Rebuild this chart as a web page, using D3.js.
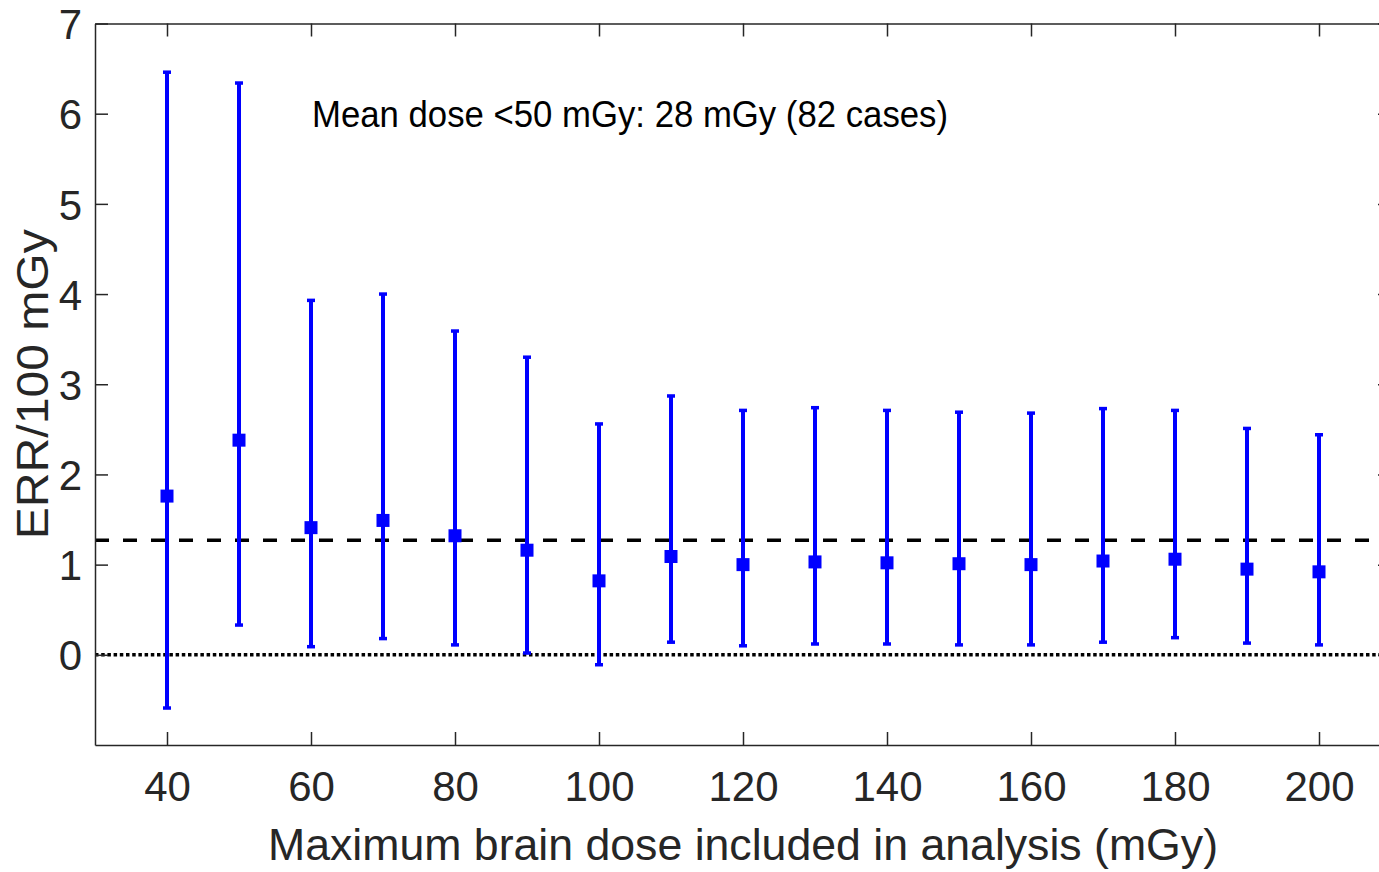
<!DOCTYPE html>
<html>
<head>
<meta charset="utf-8">
<script src="https://cdn.jsdelivr.net/npm/d3@7"></script>
<style>
  body { margin: 0; background: #fff; }
  svg { display: block; font-family: "Liberation Sans", Arial, sans-serif; }
</style>
</head>
<body>
<div id="chart"></div>
<script>
// values
const doses = [40, 50, 60, 70, 80, 90, 100, 110, 120, 130, 140, 150, 160, 170, 180, 190, 200];
const err   = [1.76, 2.38, 1.41, 1.49, 1.32, 1.16, 0.82, 1.09, 1.00, 1.03, 1.02, 1.01, 1.00, 1.04, 1.06, 0.95, 0.92];
const upper = [6.46, 6.34, 3.93, 4.00, 3.59, 3.30, 2.56, 2.87, 2.71, 2.74, 2.71, 2.69, 2.68, 2.73, 2.71, 2.51, 2.44];
const lower = [-0.59, 0.33, 0.09, 0.18, 0.11, 0.02, -0.11, 0.14, 0.10, 0.12, 0.12, 0.11, 0.11, 0.14, 0.19, 0.13, 0.11];
const refLine = 1.27;
const xTicks = [40, 60, 80, 100, 120, 140, 160, 180, 200];
const yTicks = [0, 1, 2, 3, 4, 5, 6, 7];
const note = 'Mean dose <50 mGy: 28 mGy (82 cases)';

const points = doses.map((d, i) => ({ dose: d, err: err[i], hi: upper[i], lo: lower[i] }));

const width = 1379, height = 872;
const plot = { left: 95, right: 1391, top: 23.5, bottom: 745 };
const axisColor = '#262626';

const svg = d3.select('#chart').append('svg')
    .attr('width', width)
    .attr('height', height);

const x = d3.scaleLinear().domain([30, 210]).range([plot.left, plot.right]);
const y = d3.scaleLinear().domain([-1, 7]).range([plot.bottom, plot.top]);

// reference lines
svg.append('line')
    .attr('x1', plot.left).attr('x2', plot.right)
    .attr('y1', y(refLine)).attr('y2', y(refLine))
    .attr('stroke', '#000').attr('stroke-width', 3.5)
    .attr('stroke-dasharray', '14 14');

svg.append('line')
    .attr('x1', plot.left).attr('x2', plot.right)
    .attr('y1', y(0)).attr('y2', y(0))
    .attr('stroke', '#000').attr('stroke-width', 3.5)
    .attr('stroke-dasharray', '3.5 2.7');

// error bars
const bars = svg.append('g').attr('class', 'bars');
const blue = '#0000ff';

bars.selectAll('line.bar')
    .data(points)
    .join('line')
    .attr('class', 'bar')
    .attr('x1', d => x(d.dose)).attr('x2', d => x(d.dose))
    .attr('y1', d => y(d.hi)).attr('y2', d => y(d.lo))
    .attr('stroke', blue).attr('stroke-width', 4);

const capW = 8, capH = 3.5;
bars.selectAll('rect.cap-hi')
    .data(points)
    .join('rect')
    .attr('class', 'cap-hi')
    .attr('x', d => x(d.dose) - capW / 2)
    .attr('y', d => y(d.hi) - capH / 2)
    .attr('width', capW).attr('height', capH)
    .attr('fill', blue);

bars.selectAll('rect.cap-lo')
    .data(points)
    .join('rect')
    .attr('class', 'cap-lo')
    .attr('x', d => x(d.dose) - capW / 2)
    .attr('y', d => y(d.lo) - capH / 2)
    .attr('width', capW).attr('height', capH)
    .attr('fill', blue);

const m = 13;
bars.selectAll('rect.marker')
    .data(points)
    .join('rect')
    .attr('class', 'marker')
    .attr('x', d => x(d.dose) - m / 2)
    .attr('y', d => y(d.err) - m / 2)
    .attr('width', m).attr('height', m)
    .attr('fill', blue);

// axes (ticks point inward, box all round)
const tickLen = 13;
const tickFont = 42;

const xAxis = svg.append('g')
    .attr('transform', `translate(0,${plot.bottom})`)
    .call(d3.axisBottom(x).tickValues(xTicks).tickSizeInner(-tickLen).tickSizeOuter(0).tickPadding(26));

const xTop = svg.append('g')
    .attr('transform', `translate(0,${plot.top})`)
    .call(d3.axisTop(x).tickValues(xTicks).tickSizeInner(-tickLen).tickSizeOuter(0).tickFormat(''));

const yAxis = svg.append('g')
    .attr('transform', `translate(${plot.left},0)`)
    .call(d3.axisLeft(y).tickValues(yTicks).tickSizeInner(-tickLen).tickSizeOuter(0).tickPadding(13));

const yRight = svg.append('g')
    .attr('transform', `translate(${plot.right},0)`)
    .call(d3.axisRight(y).tickValues(yTicks).tickSizeInner(-tickLen).tickSizeOuter(0).tickFormat(''));

[xAxis, xTop, yAxis, yRight].forEach(g => {
    g.select('.domain').attr('stroke', axisColor).attr('stroke-width', 1.5);
    g.selectAll('.tick line').attr('stroke', axisColor).attr('stroke-width', 1.5);
    g.selectAll('.tick text')
        .attr('fill', axisColor)
        .style('font-size', tickFont + 'px')
        .style('font-family', '"Liberation Sans", Arial, sans-serif');
});
yAxis.selectAll('.tick text').attr('dy', '0.36em');

// axis titles
svg.append('text')
    .attr('x', (plot.left + plot.right) / 2)
    .attr('y', 860)
    .attr('text-anchor', 'middle')
    .attr('fill', axisColor)
    .style('font-size', '44px')
    .attr('textLength', 950)
    .attr('lengthAdjust', 'spacingAndGlyphs')
    .text('Maximum brain dose included in analysis (mGy)');

svg.append('text')
    .attr('transform', `translate(48,${(plot.top + plot.bottom) / 2}) rotate(-90)`)
    .attr('text-anchor', 'middle')
    .attr('fill', axisColor)
    .style('font-size', '44px')
    .attr('textLength', 310)
    .attr('lengthAdjust', 'spacingAndGlyphs')
    .text('ERR/100 mGy');

// annotation
svg.append('text')
    .attr('x', 312)
    .attr('y', 127)
    .attr('fill', '#000')
    .style('font-size', '37px')
    .attr('textLength', 636)
    .attr('lengthAdjust', 'spacingAndGlyphs')
    .text(note);
</script>
</body>
</html>
